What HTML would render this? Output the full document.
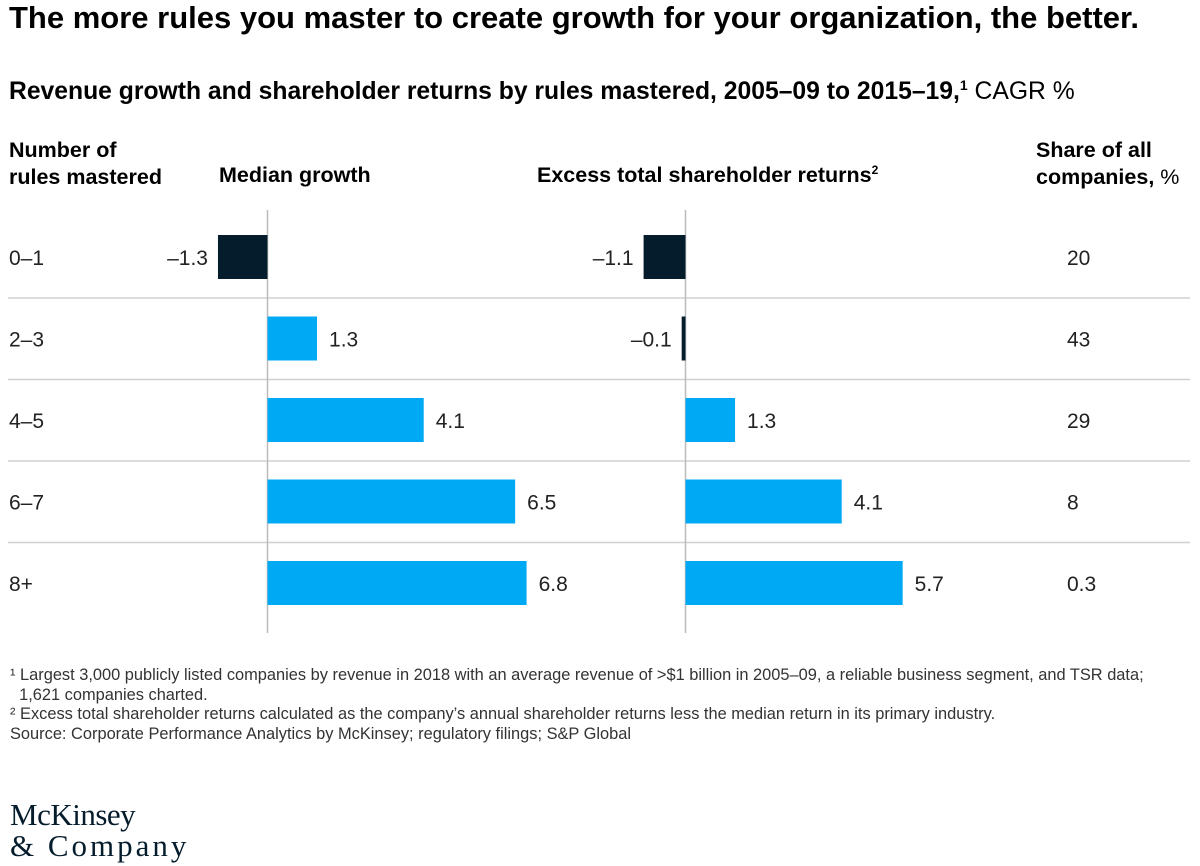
<!DOCTYPE html>
<html><head><meta charset="utf-8"><style>
body{margin:0;width:1200px;height:866px;background:#fff;font-family:"Liberation Sans",sans-serif;color:#051c2c;position:relative;overflow:hidden}
.t{position:absolute;white-space:nowrap}
</style></head><body>
<div class="t" style="left:9px;top:0px;font-size:31px;font-weight:bold;color:#000">The more rules you master to create growth for your organization, the better.</div>
<div class="t" style="left:9px;top:77px;font-size:24.7px;font-weight:bold;color:#000">Revenue growth and shareholder returns by rules mastered, 2005–09 to 2015–19,<sup style="font-size:14px">1</sup> <span style="font-weight:normal">CAGR %</span></div>
<div class="t" style="left:9px;top:137px;font-size:21.5px;font-weight:bold;line-height:27px;color:#000">Number of<br>rules mastered</div>
<div class="t" style="left:219px;top:163px;font-size:21.5px;font-weight:bold;color:#000">Median growth</div>
<div class="t" style="left:537px;top:163px;font-size:21.5px;font-weight:bold;color:#000">Excess total shareholder returns<sup style="font-size:12px">2</sup></div>
<div class="t" style="left:1036px;top:137px;font-size:21.5px;font-weight:bold;line-height:27px;color:#000">Share of all<br>companies, <span style="font-weight:normal">%</span></div>
<svg id="chart" width="1200" height="866" style="position:absolute;left:0;top:0"></svg>
<div class="t" style="left:10px;top:666px;font-size:16.4px;line-height:19.5px;color:#333">¹ Largest 3,000 publicly listed companies by revenue in 2018 with an average revenue of &gt;$1 billion in 2005–09, a reliable business segment, and TSR data;<br>&nbsp;&nbsp;1,621 companies charted.<br>² Excess total shareholder returns calculated as the company’s annual shareholder returns less the median return in its primary industry.<br>Source: Corporate Performance Analytics by McKinsey; regulatory filings; S&amp;P Global</div>
<div class="t" style="left:10px;top:799px;font-family:'Liberation Serif',serif;font-size:31px;line-height:31px;color:#051c2c;letter-spacing:-0.5px">McKinsey<br><span style="letter-spacing:3px">&amp; Company</span></div>
<script>
const categories=["0–1","2–3","4–5","6–7","8+"];
const growth=[-1.3,1.3,4.1,6.5,6.8];
const tsr=[-1.1,-0.1,1.3,4.1,5.7];
const share=["20","43","29","8","0.3"];
const svg=document.getElementById('chart');
const NS="http://www.w3.org/2000/svg";
const scale=38.1, zeroG=267.5, zeroT=685.5, top0=235, pitch=81.5, bh=44;
function xG(v){return zeroG+v*scale;}
function xT(v){return zeroT+v*scale;}
function yRow(i){return top0+i*pitch;}
function mk(tag,attrs){const e=document.createElementNS(NS,tag);for(const k in attrs)e.setAttribute(k,attrs[k]);svg.appendChild(e);return e;}
for(let i=1;i<categories.length;i++){
  const l=mk('line',{x1:8,x2:1190,y1:yRow(i)-18.5,y2:yRow(i)-18.5,stroke:'#d0d0d0','stroke-width':1.5});
  
  
}
[zeroG,zeroT].forEach(x=>{
  const l=mk('line',{x1:x,x2:x,y1:210,y2:633,stroke:'#bbb','stroke-width':1.5});
  
  
});
function bars(vals,xf,name){
  vals.forEach((v,i)=>{
    const x0=xf(0),x1=xf(v),y=yRow(i);
    const r=mk('rect',{x:Math.min(x0,x1),y:y,width:Math.max(Math.abs(x1-x0),2.5),height:bh,fill:v<0?'#051c2c':'#00a9f4'});
    
    
    const t=mk('text',{x:v<0?Math.min(x1,x0-2.5)-10:x1+12,y:y+bh/2+8,'font-size':21,fill:'#222','text-anchor':v<0?'end':'start'});
    t.textContent=(v<0?'–':'')+Math.abs(v).toFixed(1);
    
    
  });
}
bars(growth,xG,'growth');
bars(tsr,xT,'tsr');
categories.forEach((c,i)=>{
  const t=mk('text',{x:9,y:yRow(i)+bh/2+8,'font-size':21,fill:'#222'});
  t.textContent=c;
  
  
  const s=mk('text',{x:1067,y:yRow(i)+bh/2+8,'font-size':21,fill:'#222'});
  s.textContent=share[i];
  
  
});
</script>
</body></html>
